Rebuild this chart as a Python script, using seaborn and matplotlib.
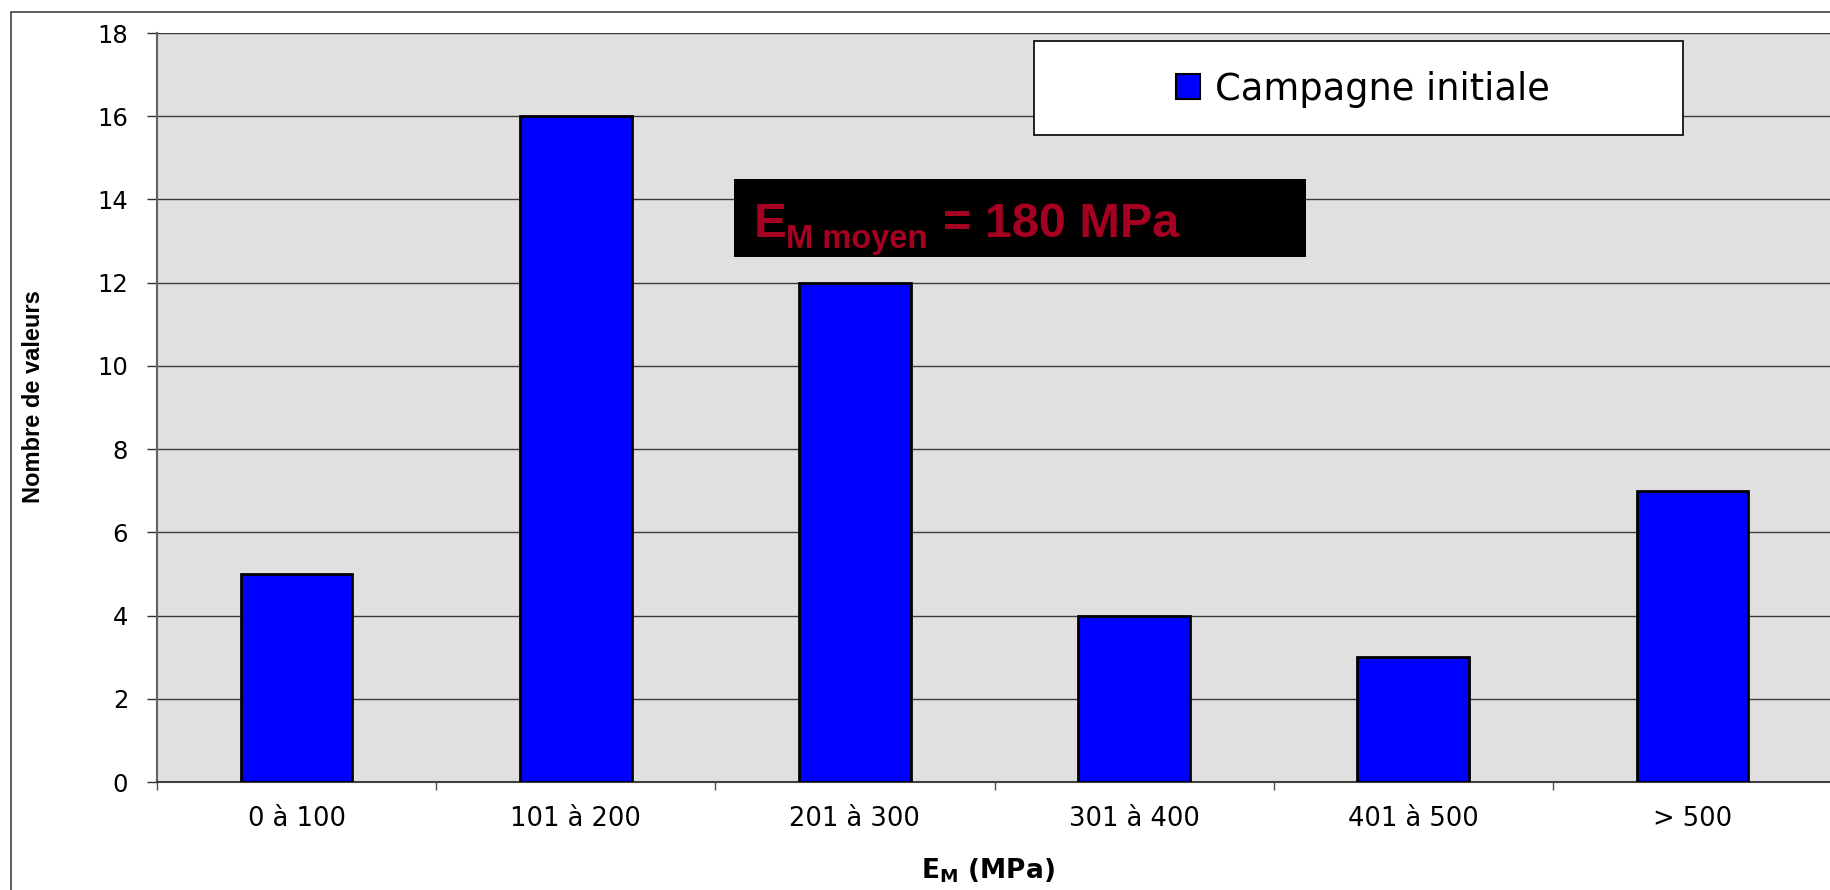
import numpy as np
import matplotlib
matplotlib.use("Agg")
import matplotlib.pyplot as plt
from matplotlib.patches import Rectangle, Patch
import seaborn as sns

# Distribution of pressuremeter moduli by class
categories = ["0 à 100", "101 à 200", "201 à 300", "301 à 400", "401 à 500", "> 500"]
counts = [5, 16, 12, 4, 3, 7]
series_name = "Campagne initiale"
y_ticks = [0, 2, 4, 6, 8, 10, 12, 14, 16, 18]

W, H = 1830, 890

sns.set_style("white")
plt.rcParams["font.family"] = ["DejaVu Sans"]
plt.rcParams["text.color"] = "black"
plt.rcParams["mathtext.fontset"] = "custom"
plt.rcParams["mathtext.bf"] = "DejaVu Sans:bold"
plt.rcParams["mathtext.rm"] = "DejaVu Sans"


def fx(x):
    return x / W


def fy(y):
    return 1 - y / H


fig = plt.figure(figsize=(W / 100, H / 100), dpi=100)
fig.patch.set_facecolor("white")

ax = fig.add_axes([fx(157), fy(782), (1832 - 157) / W, (782 - 33) / H])
ax.set_facecolor("#E0E0E0")

sns.barplot(x=categories, y=counts, color="#0000FF", saturation=1,
            edgecolor="black", linewidth=2, width=0.4, ax=ax, zorder=3)

ax.set_xlim(-0.5, len(categories) - 0.5)
ax.set_ylim(0, 18)
ax.set_yticks(y_ticks)
ax.set_xticks(np.arange(len(categories)))
ax.set_xticklabels(categories)
ax.set_xticks(np.arange(-0.5, len(categories)), minor=True)

ax.set_axisbelow(True)
ax.yaxis.grid(True, color="#3a3a3a", linewidth=1.0)
ax.xaxis.grid(False)

ax.tick_params(axis="x", which="major", length=0, pad=17.5, labelsize=18.5,
               labelcolor="black")
ax.tick_params(axis="x", which="minor", length=6, width=1.0, color="#505050",
               direction="out", bottom=True)
ax.tick_params(axis="y", which="major", length=7.2, width=1.0, color="#303030",
               direction="out", left=True, pad=13.5, labelsize=17.5,
               labelcolor="black")

for side in ("top", "right"):
    ax.spines[side].set_visible(False)
ax.spines["left"].set_color("#606060")
ax.spines["left"].set_linewidth(1.5)
ax.spines["bottom"].set_color("#404040")
ax.spines["bottom"].set_linewidth(1.5)
ax.set_xlabel("")
ax.set_ylabel("")

# Outer chart frame
fig.add_artist(Rectangle((fx(11), -0.1), 1.2, fy(12) + 0.1,
                         transform=fig.transFigure, facecolor="none",
                         edgecolor="#404040", linewidth=1.2, zorder=0))

# Axis titles
fig.text(fx(33.5), fy(397), "Nombre de valeurs", rotation=90,
         ha="center", va="center", fontsize=17, fontweight="bold",
         family=["Liberation Sans", "DejaVu Sans"], color="black")
fig.text(fx(988), fy(871), r"$\mathbf{E_M}$ (MPa)", ha="center",
         va="center", fontsize=19, fontweight="bold", color="black")

# Legend box
fig.add_artist(Rectangle((fx(1034), fy(135)), (1683 - 1034) / W,
                         (135 - 41) / H, transform=fig.transFigure,
                         facecolor="white", edgecolor="black",
                         linewidth=1.2, zorder=4))
handle = Patch(facecolor="#0000FF", edgecolor="black", linewidth=1.5,
               label=series_name)
leg = fig.legend(handles=[handle], loc="center",
                 bbox_to_anchor=(fx(1363), fy(89)),
                 bbox_transform=fig.transFigure, frameon=False,
                 fontsize=26.5, handlelength=0.65, handleheight=0.65,
                 handletextpad=0.4, borderpad=0, labelcolor="black")
leg.set_zorder(5)

# Mean modulus annotation
fig.add_artist(Rectangle((fx(734), fy(257)), (1306 - 734) / W,
                         (257 - 179) / H, transform=fig.transFigure,
                         facecolor="black", edgecolor="none", zorder=4))
ann = dict(ha="left", va="baseline", fontweight="bold",
           family=["Liberation Sans", "DejaVu Sans"], color="#A50021", zorder=5)
fig.text(fx(754), fy(237), "E", fontsize=35.5, **ann)
fig.text(fx(786), fy(248), "M moyen", fontsize=23.5, **ann)
fig.text(fx(943), fy(237), "= 180 MPa", fontsize=35, **ann)

fig.savefig("out.png", dpi=100)
